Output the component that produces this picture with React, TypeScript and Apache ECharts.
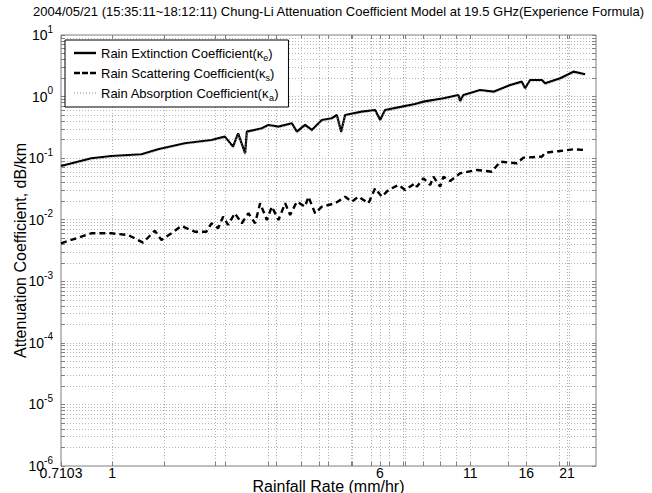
import React, { useEffect, useRef } from "react";
import * as echarts from "echarts";

const titleText =
  "2004/05/21 (15:35:11~18:12:11) Chung-Li Attenuation Coefficient Model at 19.5 GHz(Experience Formula)";

const rainExt = [0.7103, 0.87, 0.995, 1.217, 1.36, 1.627, 1.944, 2.126, 2.247, 2.324, 2.436, 2.464, 2.724, 2.847, 3.044, 3.33, 3.443, 3.639, 3.806, 4.071, 4.352, 4.5, 4.632, 4.757, 5.319, 5.815, 6.013, 6.217, 6.953, 7.6, 8.034, 9.186, 10.15, 10.27, 10.5, 11.74, 12.84, 14.36, 15.52, 15.87, 16.41, 17.75, 18.14, 20.06, 21.93, 23.71];
const extinction = [0.0746, 0.0995, 0.1084, 0.1156, 0.1393, 0.1744, 0.1972, 0.2233, 0.1536, 0.2535, 0.12, 0.2692, 0.3055, 0.3458, 0.3245, 0.3684, 0.2692, 0.3458, 0.2869, 0.4169, 0.4444, 0.5027, 0.2692, 0.5027, 0.5686, 0.6058, 0.4169, 0.6058, 0.6852, 0.7586, 0.8261, 0.9384, 1.062, 0.848, 1.062, 1.28, 1.201, 1.543, 1.746, 1.364, 1.86, 1.86, 1.644, 1.983, 2.537, 2.302];
const absorption = [0.0705, 0.0937, 0.1024, 0.1096, 0.1329, 0.167, 0.1893, 0.2141, 0.1448, 0.243, 0.111, 0.257, 0.295, 0.333, 0.311, 0.352, 0.253, 0.325, 0.269, 0.399, 0.424, 0.48, 0.247, 0.48, 0.544, 0.574, 0.39, 0.575, 0.65, 0.72, 0.78, 0.888, 1.005, 0.79, 1.0, 1.215, 1.14, 1.46, 1.65, 1.27, 1.75, 1.75, 1.53, 1.86, 2.4, 2.17];

const rainScat = [0.7103, 0.87, 0.995, 1.113, 1.23, 1.331, 1.391, 1.487, 1.59, 1.74, 1.88, 1.944, 2.033, 2.102, 2.174, 2.273, 2.382, 2.49, 2.604, 2.693, 2.817, 2.913, 3.044, 3.184, 3.292, 3.443, 3.639, 3.72, 3.891, 4.071, 4.449, 4.757, 4.976, 5.2, 5.56, 5.815, 6.081, 6.356, 6.797, 7.108, 7.6, 7.688, 8.034, 8.403, 8.59, 8.984, 9.186, 9.607, 10.27, 11.48, 12.7, 13.43, 15.02, 15.69, 17.75, 18.14, 20.06, 21.93, 23.71];
const scattering = [0.00414, 0.00602, 0.00602, 0.00565, 0.00424, 0.00664, 0.00469, 0.00602, 0.00791, 0.00639, 0.00639, 0.00875, 0.00726, 0.0112, 0.00822, 0.01273, 0.00875, 0.01273, 0.00875, 0.01849, 0.00991, 0.01629, 0.00991, 0.01849, 0.01194, 0.01963, 0.01629, 0.02366, 0.01273, 0.01629, 0.01849, 0.02366, 0.01963, 0.02366, 0.01849, 0.03243, 0.02366, 0.03041, 0.03665, 0.03041, 0.03909, 0.03442, 0.0471, 0.03665, 0.05, 0.03442, 0.05, 0.04257, 0.05678, 0.06427, 0.06026, 0.0877, 0.0826, 0.1018, 0.1057, 0.1227, 0.1306, 0.1393, 0.1358];

const xTickLabels = [0.7103, 1, 6, 11, 16, 21];
const xGridValues = [0.7103, 1, 1.4206, 2, 2.1309, 2.8412, 3, 3.5515, 4, 4.2618, 4.9721, 5, 5.6824, 6, 6.3927, 7, 7.103, 8, 9, 10, 11, 14.206, 16, 20, 21, 21.309];
const yTickLabels = [1e-6, 1e-5, 1e-4, 1e-3, 1e-2, 1e-1, 1, 10];
const yGridMultipliers = [1, 2, 3, 4, 5, 6, 7, 8, 9];

const legendLabels: Record<string, string> = {
  ext: "Rain Extinction Coefficient(κ{s|e})",
  scat: "Rain Scattering Coefficient(κ{s|s})",
  abs: "Rain Absorption Coefficient(κ{s|a})",
};

const FONT = "'Liberation Sans', Arial, Helvetica, sans-serif";

const ICON_SOLID = "path://M0,0h22v2.4h-22z";
const ICON_DASHED = "path://M0,0h6v2.4h-6z M8,0h6v2.4h-6z M16,0h6v2.4h-6z";
const ICON_DOTTED = "path://M0,0h1v1h-1z M3,0h1v1h-1z M6,0h1v1h-1z M9,0h1v1h-1z M12,0h1v1h-1z M15,0h1v1h-1z M18,0h1v1h-1z M21,0h1v1h-1z";

export default function App() {
  const ref = useRef<HTMLDivElement>(null);
  useEffect(() => {
    if (!ref.current) return;
    const chart = echarts.init(ref.current, undefined, { renderer: "svg" });
    const yGrid: number[] = [];
    for (let e = -6; e < 1; e++) {
      for (const m of yGridMultipliers) yGrid.push(Number((m * Math.pow(10, e)).toPrecision(3)));
    }
    yGrid.push(10);
    const gridLine = { show: true, lineStyle: { color: "#b4b4b4", type: [1, 2] as any, width: 1 } };
    const yLabelFmt = (v: number) => `{b|10}{e|${Math.round(Math.log10(v))}}`;
    const yAxisBase = {
      type: "log" as const,
      logBase: 10,
      min: 1e-6,
      max: 10,
      axisLine: { show: false },
      axisTick: { show: true, inside: true, length: 4, customValues: yGrid, lineStyle: { color: "#808080" } },
    };
    const xAxisBase = {
      type: "log" as const,
      logBase: 10,
      min: 0.7103,
      max: 25.5,
      axisLine: { show: false },
      axisTick: { show: true, inside: true, length: 4, customValues: xGridValues, lineStyle: { color: "#808080" } },
    };
    const option: any = {
      animation: false,
      textStyle: { fontFamily: FONT },
      title: {
        text: titleText,
        left: 33,
        top: 5,
        padding: 0,
        textStyle: { fontSize: 13, fontWeight: "normal", color: "#000", fontFamily: FONT },
      },
      grid: {
        left: 61,
        right: 56,
        top: 35,
        bottom: 27,
        show: true,
        borderColor: "#808080",
        borderWidth: 1,
        backgroundColor: "transparent",
        containLabel: false,
        outerBoundsMode: "none",
      },
      legend: {
        data: [
          { name: "ext", icon: ICON_SOLID, itemStyle: { color: "#000" } },
          { name: "scat", icon: ICON_DASHED, itemStyle: { color: "#000" } },
          { name: "abs", icon: ICON_DOTTED, itemStyle: { color: "#8a8a8a" } },
        ],
        orient: "vertical",
        left: 65,
        top: 40,
        padding: [4, 10, 5, 9],
        itemGap: 2,
        itemWidth: 22,
        itemHeight: 14,
        symbolKeepAspect: true,
        backgroundColor: "#fff",
        borderColor: "#000",
        borderWidth: 1,
        borderRadius: 0,
        selectedMode: false,
        formatter: (n: string) => legendLabels[n],
        textStyle: {
          fontSize: 13,
          color: "#000",
          fontFamily: FONT,
          lineHeight: 18,
          rich: { s: { fontSize: 9, lineHeight: 9, verticalAlign: "bottom", color: "#000", fontFamily: FONT } },
        },
      },
      xAxis: [
        {
          ...xAxisBase,
          position: "bottom",
          name: "Rainfall Rate (mm/hr)",
          nameLocation: "middle",
          nameGap: 12,
          nameMoveOverlap: false,
          nameTextStyle: { fontSize: 16, color: "#000", fontFamily: FONT, lineHeight: 16 },
          axisLabel: {
            customValues: xTickLabels,
            color: "#000",
            fontSize: 14,
            lineHeight: 13,
            margin: 0,
            fontFamily: FONT,
            hideOverlap: false,
            formatter: (v: number) => String(v),
          },
          splitLine: gridLine,
        },
        {
          ...xAxisBase,
          position: "top",
          axisLabel: { show: false },
          splitLine: { show: false },
        },
      ],
      yAxis: [
        {
          ...yAxisBase,
          position: "left",
          name: "Attenuation Coefficient, dB/km",
          nameLocation: "middle",
          nameGap: 33,
          nameMoveOverlap: false,
          nameTextStyle: { fontSize: 16, color: "#000", fontFamily: FONT },
          axisLabel: {
            customValues: yTickLabels,
            formatter: yLabelFmt,
            margin: 8,
            hideOverlap: false,
            rich: {
              b: { fontSize: 14, lineHeight: 22, color: "#000", fontFamily: FONT },
              e: { fontSize: 10, lineHeight: 10, verticalAlign: "top", color: "#000", fontFamily: FONT },
            },
          },
          splitLine: gridLine,
        },
        {
          ...yAxisBase,
          position: "right",
          axisLabel: { show: false },
          splitLine: { show: false },
        },
      ],
      series: [
        {
          name: "ext",
          type: "line",
          data: rainExt.map((r, i) => [r, extinction[i]]),
          symbol: "none",
          itemStyle: { color: "#000" },
          lineStyle: { color: "#000", width: 2.2, type: "solid" },
          z: 3,
        },
        {
          name: "scat",
          type: "line",
          data: rainScat.map((r, i) => [r, scattering[i]]),
          symbol: "none",
          itemStyle: { color: "#000" },
          lineStyle: { color: "#000", width: 2.4, type: [6, 4] },
          z: 3,
        },
        {
          name: "abs",
          type: "line",
          data: rainExt.map((r, i) => [r, absorption[i]]),
          symbol: "none",
          itemStyle: { color: "#8a8a8a" },
          lineStyle: { color: "#9a9a9a", width: 1, type: [1, 2] },
          z: 4,
        },
      ],
    };
    chart.setOption(option);
    return () => chart.dispose();
  }, []);
  return <div ref={ref} style={{ width: 652, height: 493, position: "absolute", left: 0, top: 0, background: "#fff" }} />;
}
